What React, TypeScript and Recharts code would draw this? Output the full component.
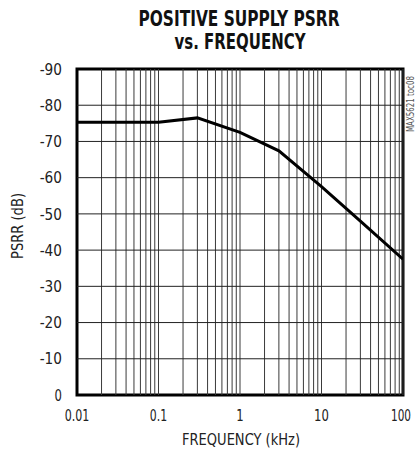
import React from "react";
import { LineChart, Line, XAxis, YAxis, ReferenceArea, ReferenceLine } from "recharts";

const frequencyKHz = [0.01, 0.1, 0.3, 1, 3, 10, 30, 100];
const psrrDb = [-75.3, -75.3, -76.5, -72.5, -67.4, -57.5, -48, -37.5];
const xTicks = [0.01, 0.1, 1, 10, 100];
const yTicks = [-90, -80, -70, -60, -50, -40, -30, -20, -10, 0];
const xTickLabels = ["0.01", "0.1", "1", "10", "100"];
const decades = [0.01, 0.1, 1, 10];
const multipliers = [2, 3, 4, 5, 6, 7, 8, 9, 10];
const horizontalGrid = [-80, -70, -60, -50, -40, -30, -20, -10];

const data = frequencyKHz.map((f, i) => ({ f, v: psrrDb[i] }));
const verticalGrid: number[] = [];
decades.forEach((d) => multipliers.forEach((m) => verticalGrid.push(+(d * m).toPrecision(3))));

const FONT = "'DejaVu Sans Condensed', 'Liberation Sans', sans-serif";

function labelWidth(s: string) {
  let w = 0;
  for (const c of s) {
    if (c === "-") w += 7.5;
    else if (c === ".") w += 2.5;
    else w += 7.4;
  }
  return w;
}

function TickText(props: any) {
  const { x, y, payload, textAnchor, axis } = props;
  const label = axis === "x" ? xTickLabels[xTicks.indexOf(payload.value)] ?? String(payload.value) : String(payload.value);
  const isLast = axis === "x" && label === "100";
  const w = isLast ? 20 : labelWidth(label);
  return (
    <text
      x={isLast ? x + 8 : x}
      y={y}
      dy={axis === "x" ? "0.71em" : "0.355em"}
      textAnchor={isLast ? "end" : textAnchor}
      fontFamily={FONT}
      fontSize={isLast ? 15 : 16}
      fill="#222"
      textLength={w}
      lengthAdjust="spacingAndGlyphs"
    >
      {label}
    </text>
  );
}

export default function App() {
  return (
    <div style={{ position: "absolute", left: 0, top: 0, width: 416, height: 450, background: "#fff" }}>
      <LineChart
        width={416}
        height={450}
        data={data}
        margin={{ top: 69, right: 13, bottom: 25, left: 0 }}
      >
        <XAxis
          dataKey="f"
          type="number"
          scale="log"
          domain={[0.01, 100]}
          ticks={xTicks}
          axisLine={false}
          tickLine={false}
          tickSize={6}
          tickMargin={9}
          height={30}
          allowDataOverflow
          interval={0}
          tick={<TickText axis="x" />}
        />
        <YAxis
          type="number"
          domain={[-90, 0]}
          reversed
          ticks={yTicks}
          axisLine={false}
          tickLine={false}
          tickSize={6}
          tickMargin={9}
          width={77}
          interval={0}
          tick={<TickText axis="y" />}
        />
        {verticalGrid.map((v) => (
          <ReferenceLine key={"vx" + v} x={v} stroke="#3a3a3a" strokeWidth={1} ifOverflow="visible" />
        ))}
        {horizontalGrid.map((v) => (
          <ReferenceLine key={"hy" + v} y={v} stroke="#222" strokeWidth={1} ifOverflow="visible" />
        ))}
        <ReferenceArea
          x1={0.01}
          x2={100}
          y1={-90}
          y2={0}
          fill="none"
          fillOpacity={0}
          stroke="#000"
          strokeWidth={3}
          strokeOpacity={1}
          ifOverflow="visible"
        />
        <Line
          dataKey="v"
          type="linear"
          stroke="#000"
          strokeWidth={3}
          dot={false}
          isAnimationActive={false}
        />
      </LineChart>
      <svg
        width={416}
        height={450}
        style={{ position: "absolute", left: 0, top: 0, pointerEvents: "none" }}
      >
        <text x={239} y={26} textAnchor="middle" fontFamily={FONT} fontWeight="bold" fontSize={21} fill="#111" textLength={201} lengthAdjust="spacingAndGlyphs">
          POSITIVE SUPPLY PSRR
        </text>
        <text x={240} y={49} textAnchor="middle" fontFamily={FONT} fontWeight="bold" fontSize={21} fill="#111" textLength={131} lengthAdjust="spacingAndGlyphs">
          vs. FREQUENCY
        </text>
        <text x={241} y={445} textAnchor="middle" fontFamily={FONT} fontSize={15} fill="#222" textLength={118} lengthAdjust="spacingAndGlyphs">
          FREQUENCY (kHz)
        </text>
        <text transform="translate(23,226) rotate(-90)" textAnchor="middle" fontFamily={FONT} fontSize={15} fill="#222" textLength={66} lengthAdjust="spacingAndGlyphs">
          PSRR (dB)
        </text>
        <text transform="translate(414,104) rotate(-90)" textAnchor="middle" fontFamily={FONT} fontSize={10} fill="#555" textLength={56} lengthAdjust="spacingAndGlyphs">
          MAX5621 toc08
        </text>
      </svg>
    </div>
  );
}
